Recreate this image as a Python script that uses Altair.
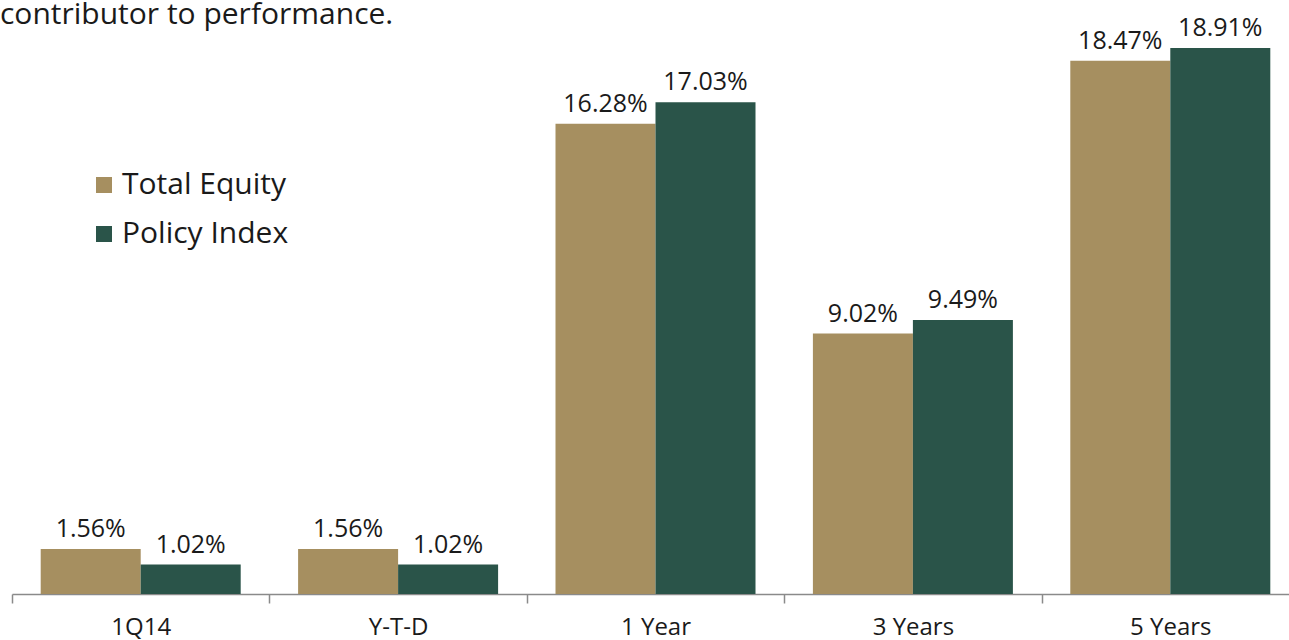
import altair as alt
import pandas as pd

categories = ["1Q14", "Y-T-D", "1 Year", "3 Years", "5 Years"]
series = ["Total Equity", "Policy Index"]
total_equity = [1.56, 1.56, 16.28, 9.02, 18.47]
policy_index = [1.02, 1.02, 17.03, 9.49, 18.91]
colors = ["#A68F60", "#2A5449"]
title_text = "contributor to performance."

rows = []
for i, c in enumerate(categories):
    rows.append({"Period": c, "Series": series[0], "Value": total_equity[i]})
    rows.append({"Period": c, "Series": series[1], "Value": policy_index[i]})
df = pd.DataFrame(rows)
df["Label"] = df["Value"].map(lambda v: f"{v:.2f}%")

FONT = "Open Sans"
TEXT = "#1a1a1a"
GRAY = "#8a8a8a"

x = alt.X(
    "Period:N", sort=categories, title=None,
    scale=alt.Scale(paddingInner=0, paddingOuter=0, range=[0, 1287]),
    axis=alt.Axis(labelAngle=0, tickBand="extent", tickSize=9, tickColor=GRAY,
                  tickWidth=1.5, domainColor=GRAY, domainWidth=1.5,
                  labelFontSize=24, labelFont=FONT, labelColor=TEXT,
                  labelPadding=12, orient="bottom"),
)
xoff = alt.XOffset("Series:N", sort=series,
                   scale=alt.Scale(paddingInner=0, paddingOuter=0.287))
y = alt.Y("Value:Q", scale=alt.Scale(domain=[0, 19.6], nice=False), axis=None)

bars = alt.Chart().mark_bar().encode(
    color=alt.Color(
        "Series:N", sort=series,
        scale=alt.Scale(domain=series, range=colors),
        legend=alt.Legend(orient="none", legendX=77, legendY=142, title=None,
                          symbolType="square", symbolSize=256,
                          symbolStrokeWidth=0, symbolOpacity=1,
                          labelFontSize=30, labelFont=FONT, labelColor=TEXT,
                          labelLimit=500, rowPadding=19, labelOffset=3,
                          padding=0),
    ),
)

labels = alt.Chart().mark_text(
    baseline="alphabetic", dy=-12, fontSize=25, font=FONT, color=TEXT
).encode(text="Label:N")

chart = alt.layer(bars, labels, data=df).encode(
    x=x, xOffset=xoff, y=y
).properties(
    width=1277, height=566,
    autosize="none",
    padding={"left": 12, "top": 28, "right": 0, "bottom": 46},
    title=alt.TitleParams(title_text, anchor="start", fontSize=30, font=FONT,
                          color=TEXT, fontWeight="normal", baseline="alphabetic",
                          offset=-38, dx=-12, frame="group"),
).configure_view(stroke=None)

chart.save("out.html", embed_options={"renderer": "svg", "actions": False})
